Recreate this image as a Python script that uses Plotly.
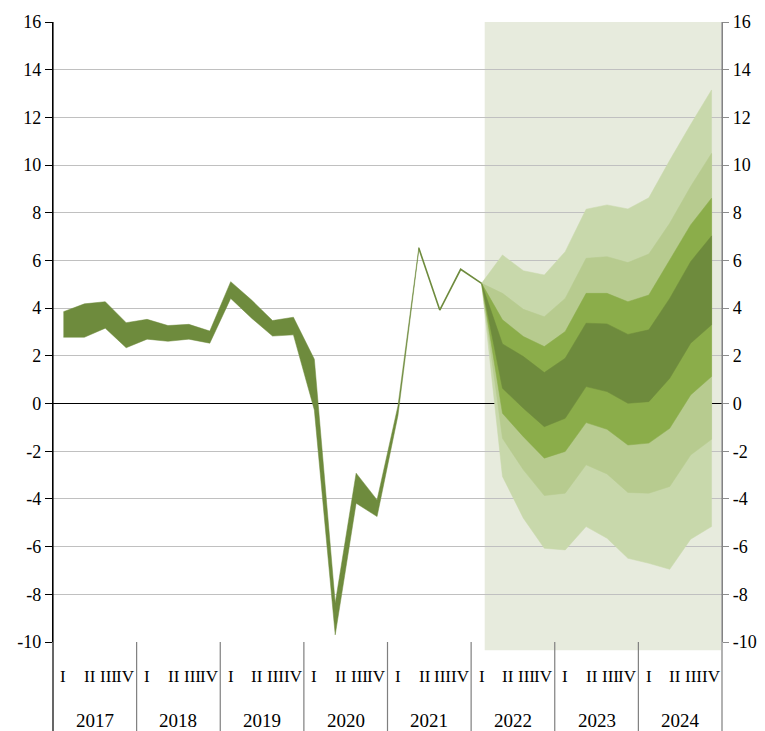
import plotly.graph_objects as go

# ---------------- data ----------------
years = [2017, 2018, 2019, 2020, 2021, 2022, 2023, 2024]
quarter_labels = ["I", "II", "III", "IV"]

# historical range band, 2017Q1 .. 2021Q2
hist_upper = [3.85, 4.18, 4.27, 3.39, 3.53, 3.27, 3.32, 3.04, 5.11, 4.34, 3.48, 3.62,
              1.86, -8.37, -2.92, -4.04, -0.10, 6.55]
hist_lower = [2.78, 2.78, 3.16, 2.34, 2.70, 2.61, 2.70, 2.53, 4.41, 3.58, 2.83, 2.88,
              -0.27, -9.70, -4.18, -4.74, -0.50, 6.45]

# single line, 2021Q2 .. 2022Q1
recent_line = [6.51, 3.92, 5.63, 5.04]

# fan chart bands, 2022Q1 .. 2024Q4
fan_90_hi = [5.04, 6.23, 5.57, 5.39, 6.37, 8.15, 8.33, 8.16, 8.63, 10.20, 11.70, 13.15]
fan_70_hi = [5.04, 4.62, 3.95, 3.64, 4.41, 6.09, 6.16, 5.91, 6.27, 7.56, 9.10, 10.49]
fan_50_hi = [5.04, 3.51, 2.81, 2.39, 3.02, 4.62, 4.62, 4.27, 4.55, 6.02, 7.49, 8.61]
fan_30_hi = [5.04, 2.50, 1.97, 1.30, 1.90, 3.37, 3.34, 2.90, 3.09, 4.41, 5.95, 7.03]
fan_30_lo = [5.04, 0.64, -0.20, -0.97, -0.62, 0.71, 0.50, 0.01, 0.08, 1.06, 2.53, 3.30]
fan_50_lo = [5.04, -0.41, -1.39, -2.29, -2.01, -0.80, -1.08, -1.74, -1.66, -1.04, 0.36, 1.13]
fan_70_lo = [5.04, -1.46, -2.78, -3.86, -3.76, -2.57, -2.95, -3.73, -3.76, -3.48, -2.16, -1.50]
fan_90_lo = [5.04, -3.06, -4.81, -6.07, -6.14, -5.16, -5.65, -6.49, -6.70, -6.95, -5.69, -5.16]

y_ticks = list(range(-10, 17, 2))

# ---------------- helpers ----------------
n_q = len(years) * 4
x_all = list(range(n_q))
x_hist = x_all[:len(hist_upper)]
x_recent = x_all[len(hist_upper) - 1:len(hist_upper) - 1 + len(recent_line)]
fc_start = n_q - len(fan_90_hi)
x_fan = x_all[fc_start:]

FONT = "Liberation Serif, Times New Roman, serif"
DARK = "#6e8b3d"

fig = go.Figure()


def band(xs, hi, lo, color):
    fig.add_trace(go.Scatter(
        x=list(xs) + list(xs)[::-1], y=list(hi) + list(lo)[::-1],
        mode="lines", fill="toself", fillcolor=color,
        line=dict(color=color, width=0.5), hoverinfo="skip", showlegend=False))


band(x_hist, hist_upper, hist_lower, DARK)
fig.add_trace(go.Scatter(x=x_recent, y=recent_line, mode="lines",
                         line=dict(color=DARK, width=1.6), hoverinfo="skip", showlegend=False))

band(x_fan, fan_90_hi, fan_90_lo, "#c8d8ab")
band(x_fan, fan_70_hi, fan_70_lo, "#b7cb8f")
band(x_fan, fan_50_hi, fan_50_lo, "#8bad4a")
band(x_fan, fan_30_hi, fan_30_lo, DARK)

# invisible trace for right axis
fig.add_trace(go.Scatter(x=[0], y=[0], yaxis="y2", mode="markers",
                         marker=dict(opacity=0), hoverinfo="skip", showlegend=False))

x_lo, x_hi = -0.5, n_q - 0.5
span = x_hi - x_lo
bottom_paper = -89 / 620

shapes = []
# forecast shading
shapes.append(dict(type="rect", xref="paper", yref="paper",
                   x0=(fc_start + 0.15 - x_lo) / span, x1=(n_q - 0.55 - x_lo) / span,
                   y0=-0.35 / 26, y1=1.0, fillcolor="#e7ebdd", line=dict(width=0), layer="below"))
# year separators
for k in range(len(years) + 1):
    xp = (k * 4 - 0.5 - x_lo) / span
    col = "black" if k == 0 else "#7f7f7f"
    y1 = 1.0 if k in (0, len(years)) else 0
    shapes.append(dict(type="line", xref="paper", yref="paper", x0=xp, x1=xp,
                       y0=bottom_paper, y1=y1, line=dict(color=col, width=1.2), layer="above"))

annotations = []
q_offsets = [0.0, 0.27, 0.15, -0.02]
for yi, yr in enumerate(years):
    for qi, ql in enumerate(quarter_labels):
        annotations.append(dict(x=yi * 4 + qi + q_offsets[qi], y=-34.7 / 620, xref="x", yref="paper",
                                text=ql, showarrow=False, xanchor="center", yanchor="middle",
                                font=dict(family=FONT, size=17, color="black")))
    annotations.append(dict(x=yi * 4 + 1.5, y=-78 / 620, xref="x", yref="paper",
                            text=str(yr), showarrow=False, xanchor="center", yanchor="middle",
                            font=dict(family=FONT, size=19, color="black")))

# page body has an 8px margin, so the figure is 8px smaller and margins shifted
fig.update_layout(
    width=757, height=723,
    margin=dict(l=45, r=43, t=14, b=89, autoexpand=False),
    paper_bgcolor="white", plot_bgcolor="white",
    showlegend=False,
    font=dict(family=FONT),
    xaxis=dict(range=[x_lo, x_hi], showticklabels=False, showgrid=False, zeroline=False,
               showline=False, ticks="", automargin=False),
    yaxis=dict(range=[-10, 16], tickvals=y_ticks, ticktext=[str(v) for v in y_ticks],
               showgrid=True, gridcolor="#c0c0c0", gridwidth=1,
               zeroline=True, zerolinecolor="black", zerolinewidth=1.2,
               showline=True, linecolor="black", linewidth=1.2,
               ticks="outside", ticklen=7, tickcolor="black", automargin=False,
               tickfont=dict(family=FONT, size=18, color="black")),
    yaxis2=dict(range=[-10, 16], tickvals=y_ticks, ticktext=[str(v) for v in y_ticks],
                overlaying="y", side="right", showgrid=False, zeroline=False,
                showline=True, linecolor="#8c8c8c", linewidth=1.2, automargin=False,
                ticks="outside", ticklen=6, tickcolor="#8c8c8c",
                tickfont=dict(family=FONT, size=18, color="black")),
    shapes=shapes,
    annotations=annotations,
)

fig.write_html("out.html")
